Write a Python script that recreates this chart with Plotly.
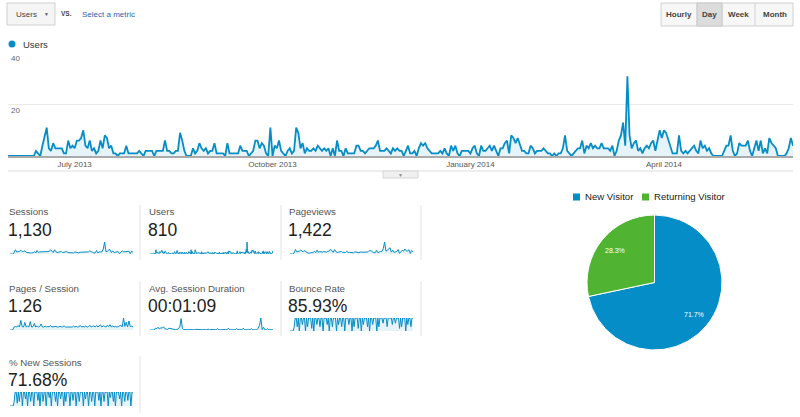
import math

import pandas as pd
import plotly.graph_objects as go

W, H = 800, 417
BLUE = "#058DC7"
GREEN = "#50B432"
FILL = "#E6F3F9"
FONT = "Arial, Liberation Sans, sans-serif"

# daily users, 2013-05-31 .. 2014-05-31
users = [
    0, 0, 0, 0, 0, 0, 0, 0, 0, 0,
    0, 0, 0, 2, 1, 0, 4, 8, 11, 3,
    2, 5, 3, 3, 3, 3, 1, 1, 6, 3,
    4, 3, 6, 6, 7, 10, 4, 3, 6, 2,
    3, 1, 2, 6, 3, 8, 7, 3, 4, 1,
    1, 0, 1, 1, 1, 4, 1, 1, 1, 1,
    1, 2, 1, 0, 2, 2, 2, 2, 0, 2,
    2, 2, 2, 6, 2, 2, 1, 1, 2, 2,
    9, 6, 2, 0, 0, 0, 3, 1, 2, 5,
    3, 2, 3, 1, 2, 2, 5, 1, 1, 1,
    1, 0, 5, 1, 1, 1, 1, 1, 4, 2,
    2, 2, 0, 1, 2, 6, 6, 3, 5, 4,
    1, 0, 11, 0, 4, 3, 6, 2, 1, 0,
    2, 3, 1, 2, 11, 9, 3, 5, 1, 3,
    2, 2, 3, 2, 4, 3, 2, 3, 2, 3,
    0, 3, 0, 6, 2, 2, 0, 3, 1, 1,
    1, 1, 4, 4, 2, 2, 1, 2, 3, 3,
    3, 4, 6, 2, 2, 2, 3, 2, 1, 3,
    2, 3, 2, 2, 0, 2, 4, 1, 1, 2,
    0, 3, 5, 4, 5, 3, 2, 1, 1, 1,
    1, 2, 1, 3, 1, 0, 4, 2, 4, 1,
    0, 2, 2, 2, 2, 1, 3, 4, 1, 0,
    4, 2, 2, 3, 4, 2, 4, 2, 0, 3,
    3, 5, 6, 1, 8, 7, 5, 7, 4, 2,
    2, 1, 1, 4, 3, 1, 2, 2, 2, 3,
    2, 1, 1, 0, 1, 0, 1, 1, 3, 8,
    2, 1, 0, 1, 2, 3, 3, 6, 1, 4,
    3, 5, 3, 4, 3, 3, 5, 3, 3, 3,
    2, 4, 0, 2, 6, 8, 13, 4, 31, 8,
    3, 5, 6, 2, 3, 1, 3, 4, 3, 5,
    6, 2, 6, 10, 7, 10, 9, 6, 3, 1,
    1, 1, 8, 2, 1, 2, 1, 2, 3, 4,
    2, 1, 6, 3, 4, 2, 3, 1, 0, 0,
    0, 0, 0, 2, 4, 4, 8, 2, 0, 1,
    5, 4, 4, 4, 6, 2, 0, 3, 6, 2,
    6, 1, 3, 1, 7, 5, 4, 3, 0, 0,
    0, 0, 1, 3, 7, 4,
]

month_ticks = ["2013-07-01", "2013-10-01", "2014-01-01", "2014-04-01"]
month_labels = ["July 2013", "October 2013", "January 2014", "April 2014"]
y_ticks = [20, 40]

# sparklines (coarser samples)
sessions = [0, 0, 0, 3, 12, 6, 6, 7, 11, 7, 7, 9, 5, 4, 2, 3, 3, 3, 7, 3, 10, 4, 6, 6,
            5, 6, 5, 5, 7, 7, 12, 7, 4, 12, 6, 4, 5, 4, 7, 4, 5, 4, 7, 4, 4, 4, 5, 3,
            6, 5, 3, 3, 5, 5, 4, 6, 5, 5, 6, 9, 8, 5, 3, 3, 10, 3, 6, 6, 6, 14, 34, 7,
            7, 12, 12, 4, 9, 4, 5, 5, 7, 1, 5, 9, 6, 7, 7, 7, 8, 1, 8, 5]
pageviews = [0, 0, 0, 3, 14, 7, 8, 9, 13, 8, 8, 11, 6, 5, 2, 4, 4, 4, 9, 4, 12, 5, 8, 7,
             6, 8, 6, 6, 9, 9, 15, 8, 5, 14, 7, 5, 6, 5, 8, 5, 6, 5, 9, 5, 5, 5, 6, 4,
             7, 6, 4, 4, 6, 6, 5, 7, 6, 6, 8, 11, 10, 6, 4, 4, 12, 4, 7, 8, 8, 17, 38, 9,
             12, 16, 20, 6, 12, 5, 7, 8, 14, 2, 7, 12, 9, 16, 10, 9, 14, 2, 11, 7]
pages_per_session = [0, 0, 0, 1, 1.2, 1, 1.5, 1, 3.2, 1.1, 1, 2.5, 1, 1.3, 1, 2.8, 1, 1.1,
                     2.2, 1, 1.4, 1, 1.2, 2, 1, 1, 1.3, 1, 1.2, 1, 1.5, 1, 1.1, 1, 1.2, 1,
                     1, 1.3, 1, 1.1, 1.4, 1, 1, 1.2, 1, 1.1, 1, 1.3, 1, 1.2, 1, 1.1, 1.5, 1,
                     1.2, 1, 1.3, 1, 1.1, 1.6, 1, 1.2, 1.4, 1, 1.5, 1, 1.3, 1.7, 1, 1.4, 1.2,
                     1, 1.6, 1.1, 1.8, 1, 1.3, 1, 1.2, 1, 1.1, 1.3, 1.6, 1, 4, 1.2, 2.6, 1,
                     3, 1.1, 1.3, 1]
avg_duration = [0, 0, 0, 0, 40, 30, 60, 20, 50, 40, 70, 30, 20, 10, 40, 30, 30, 20, 10, 5,
                10, 40, 60, 250, 30, 10, 5, 10, 5, 10, 5, 5, 10, 5, 15, 10, 5, 10, 5, 5,
                10, 5, 5, 20, 5, 10, 5, 5, 10, 5, 30, 5, 5, 10, 5, 5, 10, 5, 40, 5, 5, 10,
                5, 5, 30, 5, 10, 5, 5, 40, 10, 5, 5, 10, 5, 30, 5, 5, 10, 5, 40, 100, 260,
                10, 60, 5, 5, 30, 5, 10, 5, 5]
bounce_rate = [0, 0, 0, 0, 30, 100, 100, 33, 100, 0, 100, 100, 50, 100, 100, 0, 100, 33,
               100, 100, 100, 20, 100, 0, 100, 100, 50, 100, 100, 33, 100, 100, 0, 100,
               100, 100, 50, 100, 0, 100, 100, 33, 100, 100, 100, 0, 100, 50, 100, 100,
               33, 100, 100, 0, 100, 100, 100, 50, 100, 100, 0, 100, 33, 100, 100, 100,
               20, 100, 100, 0, 100, 50, 100, 100, 100, 33, 100, 0, 100, 100, 50, 100,
               100, 100, 0, 100, 33, 100, 100, 100, 60, 100, 100, 100, 33, 100, 100, 100,
               100, 50, 100, 100, 60, 100, 100, 100, 20, 100, 33, 100, 100, 100, 0, 100,
               50, 100, 100, 33, 100, 100]
new_sessions = [0, 0, 0, 0, 30, 100, 100, 20, 100, 33, 100, 100, 0, 100, 100, 50, 100, 0,
                100, 100, 33, 100, 100, 0, 100, 100, 100, 40, 100, 0, 100, 100, 33, 100,
                100, 0, 100, 100, 60, 100, 0, 100, 100, 100, 33, 100, 0, 100, 100, 50,
                100, 100, 0, 100, 33, 100, 100, 100, 0, 100, 100, 40, 100, 100, 0, 100,
                100, 33, 100, 100, 100, 0, 100, 50, 100, 100, 0, 100, 100, 33, 100, 100,
                0, 100, 100, 100, 40, 100, 0, 100, 100, 33, 100, 100, 100, 0, 100, 60,
                100, 100, 33, 100, 0, 100, 100, 100, 50, 100, 0, 100, 100, 33, 100, 100,
                40, 100, 100, 0, 100, 100]

visitor_types = ["New Visitor", "Returning Visitor"]
visitor_sessions = [810, 320]

# label, value, x0, x1, base y, top y, data, y max
sparks = [
    ("Sessions", "1,130", 10, 133, 254, 242, sessions, max(sessions)),
    ("Users", "810", 150, 273, 254, 242, users, max(users)),
    ("Pageviews", "1,422", 290, 413, 254, 242, pageviews, max(pageviews)),
    ("Pages / Session", "1.26", 10, 133, 330, 318, pages_per_session, max(pages_per_session)),
    ("Avg. Session Duration", "00:01:09", 150, 273, 330, 318, avg_duration, max(avg_duration)),
    ("Bounce Rate", "85.93%", 290, 413, 331, 318, bounce_rate, 100),
    ("% New Sessions", "71.68%", 10, 133, 406, 392, new_sessions, 100),
]

# pie box in page pixels
PIE_X0, PIE_X1, PIE_Y0, PIE_Y1 = 587, 722, 215, 350


def fx(px):
    return px / W


def fy(py):
    return 1 - py / H


dates = pd.date_range("2013-05-31", periods=len(users), freq="D")

fig = go.Figure()
fig.add_trace(
    go.Scatter(
        x=dates, y=users, mode="lines",
        line=dict(color=BLUE, width=1.8),
        fill="tozeroy", fillcolor=FILL,
        hoverinfo="skip", showlegend=False,
    )
)

layout = dict(
    width=W, height=H,
    margin=dict(l=0, r=0, t=0, b=0),
    paper_bgcolor="white", plot_bgcolor="white",
    font=dict(family=FONT, color="#444"),
    showlegend=False,
    xaxis=dict(
        domain=[fx(8), fx(793)],
        range=[dates[0], dates[-1]],
        tickvals=month_ticks, ticktext=month_labels,
        tickfont=dict(size=8, color="#555"),
        showgrid=False, zeroline=False, ticks="",
        showline=True, linecolor="#aaa", linewidth=1.5,
    ),
    yaxis=dict(
        domain=[fy(156), fy(53)],
        range=[0, 40],
        tickvals=y_ticks,
        ticklabelposition="inside bottom",
        tickfont=dict(size=8, color="#666"),
        showgrid=True, gridcolor="#ebebeb", gridwidth=1,
        zeroline=False, showline=False, ticks="",
    ),
)

annotations = []
shapes = []

for i, (label, value, x0, x1, yb, yt, data, ymax) in enumerate(sparks, start=2):
    fig.add_trace(
        go.Scatter(
            x=list(range(len(data))), y=data, mode="lines",
            line=dict(color=BLUE, width=1),
            fill="tozeroy", fillcolor=FILL,
            hoverinfo="skip", showlegend=False,
            xaxis=f"x{i}", yaxis=f"y{i}",
        )
    )
    layout[f"xaxis{i}"] = dict(domain=[fx(x0), fx(x1)], range=[0, len(data) - 1],
                               visible=False, anchor=f"y{i}")
    layout[f"yaxis{i}"] = dict(domain=[fy(yb), fy(yt)], range=[0, ymax],
                               visible=False, anchor=f"x{i}")
    annotations.append(dict(x=fx(x0 - 3), y=fy(yt - 30), text=label,
                            font=dict(size=9.7, color="#555")))
    annotations.append(dict(x=fx(x0 - 4), y=fy(yt - 12), text=value,
                            font=dict(size=17.5, color="#222")))

# separators between metric tiles
for x, y0, y1 in [(140, 205, 260), (281, 205, 260), (421, 205, 260),
                  (140, 281, 336), (281, 281, 336), (421, 281, 336),
                  (140, 356, 413)]:
    shapes.append(dict(type="line", xref="paper", yref="paper",
                       x0=fx(x), x1=fx(x), y0=fy(y0), y1=fy(y1),
                       line=dict(color="#e2e2e2", width=1)))

# pie
fig.add_trace(
    go.Pie(
        labels=visitor_types, values=visitor_sessions,
        domain=dict(x=[fx(PIE_X0), fx(PIE_X1)], y=[fy(PIE_Y1), fy(PIE_Y0)]),
        marker=dict(colors=[BLUE, GREEN], line=dict(color="white", width=1)),
        sort=False, direction="clockwise", rotation=0,
        textinfo="none",
        hoverinfo="skip", showlegend=False,
    )
)

# slice percentages, placed at 3/4 of the radius on each slice's mid angle
pcx, pcy = (PIE_X0 + PIE_X1) / 2, (PIE_Y0 + PIE_Y1) / 2
radius = (PIE_X1 - PIE_X0) / 2
total = sum(visitor_sessions)
start = 0.0
for v in visitor_sessions:
    share = v / total
    mid = (start + share / 2) * 2 * math.pi
    start += share
    annotations.append(dict(
        x=fx(pcx + 0.75 * radius * math.sin(mid)),
        y=fy(pcy - 0.75 * radius * math.cos(mid)),
        text=f"{share * 100:.1f}%", xanchor="center",
        font=dict(size=7, color="white"),
    ))

# pie legend
for color, label, sx in [(BLUE, visitor_types[0], 573), (GREEN, visitor_types[1], 642)]:
    shapes.append(dict(type="rect", xref="paper", yref="paper",
                       x0=fx(sx), x1=fx(sx + 7), y0=fy(200.5), y1=fy(193.5),
                       fillcolor=color, line=dict(width=0)))
    annotations.append(dict(x=fx(sx + 9.5), y=fy(197), text=label,
                            font=dict(size=9.6, color="#222")))

# chart legend
shapes.append(dict(type="circle", xref="paper", yref="paper",
                   x0=fx(8.5), x1=fx(15.5), y0=fy(47.5), y1=fy(40.5),
                   fillcolor=BLUE, line=dict(width=0)))
annotations.append(dict(x=fx(21), y=fy(44), text="Users",
                        font=dict(size=9.5, color="#333")))

# metric picker
shapes.append(dict(type="rect", xref="paper", yref="paper",
                   x0=fx(7), x1=fx(55), y0=fy(25), y1=fy(3),
                   fillcolor="#f5f5f5", line=dict(color="#cfcfcf", width=1)))
annotations += [
    dict(x=fx(14), y=fy(14.5), text="Users", font=dict(size=8, color="#444")),
    dict(x=fx(42), y=fy(14), text="▼", font=dict(size=5, color="#555")),
    dict(x=fx(59), y=fy(13.5), text="<b>VS.</b>", font=dict(size=6.5, color="#444")),
    dict(x=fx(80), y=fy(14.5), text="Select a metric", font=dict(size=8, color="#2a64b0")),
]

# period buttons
shapes.append(dict(type="rect", xref="paper", yref="paper",
                   x0=fx(661), x1=fx(793), y0=fy(26), y1=fy(3),
                   fillcolor="#f7f7f7", line=dict(color="#d0d0d0", width=1)))
shapes.append(dict(type="rect", xref="paper", yref="paper",
                   x0=fx(697), x1=fx(722), y0=fy(26), y1=fy(3),
                   fillcolor="#dcdcdc", line=dict(color="#c8c8c8", width=1)))
for x in [697, 722, 755]:
    shapes.append(dict(type="line", xref="paper", yref="paper",
                       x0=fx(x), x1=fx(x), y0=fy(26), y1=fy(3),
                       line=dict(color="#d0d0d0", width=1)))
for text, cx in [("Hourly", 679), ("Day", 709.5), ("Week", 738.5), ("Month", 774.5)]:
    annotations.append(dict(x=fx(cx), y=fy(14.5), text=f"<b>{text}</b>",
                            xanchor="center", font=dict(size=8, color="#444")))

# rule and collapse tab under the chart
shapes.append(dict(type="line", xref="paper", yref="paper",
                   x0=fx(8), x1=fx(793), y0=fy(171), y1=fy(171),
                   line=dict(color="#dcdcdc", width=1)))
shapes.append(dict(type="rect", xref="paper", yref="paper",
                   x0=fx(383), x1=fx(418), y0=fy(178), y1=fy(171),
                   fillcolor="#f0f0f0", line=dict(color="#d6d6d6", width=1)))
annotations.append(dict(x=fx(400.5), y=fy(174.5), text="▼", xanchor="center",
                        font=dict(size=5, color="#888")))

for a in annotations:
    a.setdefault("xref", "paper")
    a.setdefault("yref", "paper")
    a.setdefault("showarrow", False)
    a.setdefault("xanchor", "left")
    a.setdefault("yanchor", "middle")

layout["annotations"] = annotations
layout["shapes"] = shapes
fig.update_layout(**layout)

# the page body has a default 8px margin; drop it so the figure sits at 0,0
fig.write_html(
    "out.html",
    config={"displayModeBar": False},
    post_script="document.body.style.margin = '0';",
)
